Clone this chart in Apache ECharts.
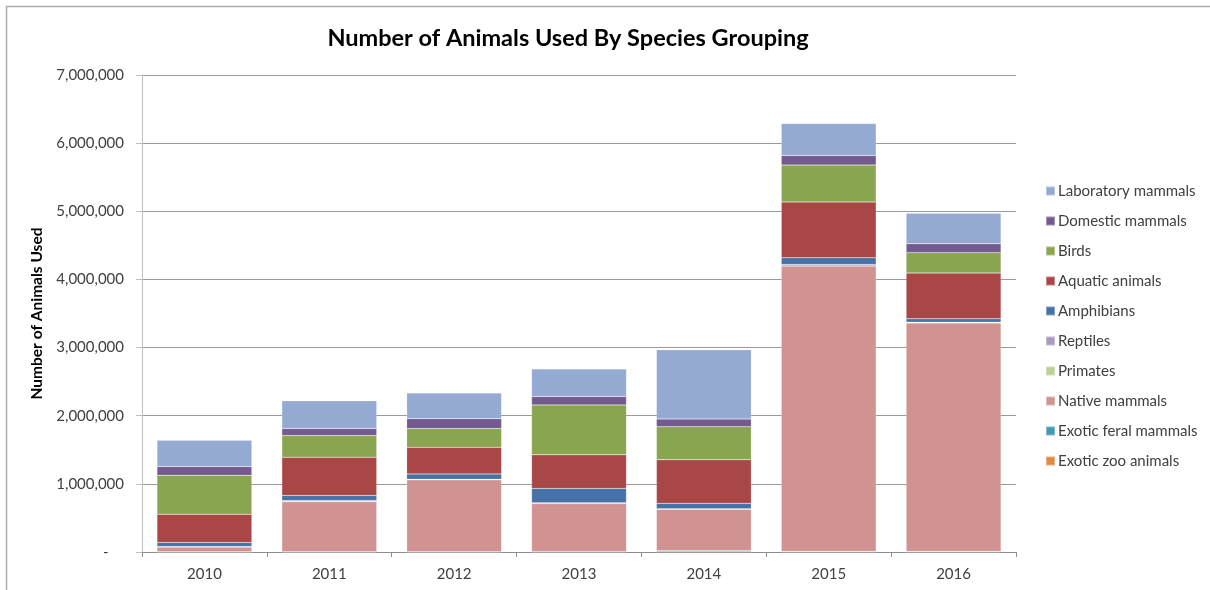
<!DOCTYPE html>
<html>
<head>
<meta charset="utf-8">
<script src="https://cdn.jsdelivr.net/npm/echarts@6/dist/echarts.min.js"></script>
<style>
  html, body { margin: 0; padding: 0; background: #ffffff; }
  #chart { width: 1210px; height: 590px; }
</style>
</head>
<body>
<div id="chart"></div>
<script>
// Number of animals used per year, by species grouping (stacked bottom → top)
const years = ['2010', '2011', '2012', '2013', '2014', '2015', '2016'];

const exoticZooAnimals    = [1000, 1000, 1000, 1000, 3000, 2000, 2000];
const exoticFeralMammals  = [3000, 3000, 3000, 4000, 15000, 5000, 5000];
const nativeMammals       = [70000, 735000, 1056000, 705000, 610000, 4190000, 3355000];
const primates            = [1000, 1000, 1000, 1000, 1000, 1000, 1000];
const reptiles            = [5000, 15000, 5000, 12000, 5000, 20000, 10000];
const amphibians          = [60000, 75000, 80000, 210000, 80000, 100000, 50000];
const aquaticAnimals      = [415000, 562000, 390000, 493000, 640000, 820000, 670000];
const birds               = [571000, 318000, 275000, 733000, 484000, 540000, 300000];
const domesticMammals     = [128000, 103000, 146000, 122000, 113000, 140000, 130000];
const laboratoryMammals   = [386000, 406000, 377000, 406000, 1016000, 470000, 450000];

const yTicks = { min: 0, max: 7000000, step: 1000000 };

const groups = [
  { name: 'Exotic zoo animals',   data: exoticZooAnimals,   color: '#E2883F' },
  { name: 'Exotic feral mammals', data: exoticFeralMammals, color: '#4399AF' },
  { name: 'Native mammals',       data: nativeMammals,      color: '#D19392' },
  { name: 'Primates',             data: primates,           color: '#BBD096' },
  { name: 'Reptiles',             data: reptiles,           color: '#A99BC0' },
  { name: 'Amphibians',           data: amphibians,         color: '#4672A8' },
  { name: 'Aquatic animals',      data: aquaticAnimals,     color: '#A84745' },
  { name: 'Birds',                data: birds,              color: '#8AA54F' },
  { name: 'Domestic mammals',     data: domesticMammals,    color: '#735A8F' },
  { name: 'Laboratory mammals',   data: laboratoryMammals,  color: '#95AAD2' }
];

const FONT = 'Lato, "Open Sans", sans-serif';

const chart = echarts.init(document.getElementById('chart'), null, { renderer: 'canvas' });

chart.setOption({
  animation: false,
  backgroundColor: '#ffffff',
  textStyle: { fontFamily: FONT },
  title: {
    text: 'Number of Animals Used By Species Grouping',
    left: 563,
    top: 21,
    textAlign: 'center',
    textStyle: { fontFamily: FONT, fontSize: 23.5, fontWeight: 'bold', color: '#000000' }
  },
  legend: {
    orient: 'vertical',
    left: 1040,
    top: 177,
    itemWidth: 9,
    itemHeight: 9,
    itemGap: 12,
    icon: 'rect',
    data: groups.map(g => g.name).reverse(),
    textStyle: { fontFamily: FONT, fontSize: 15, color: '#404040', lineHeight: 18, padding: [0, 0, 0, -2] }
  },
  grid: { left: 142, right: 194, top: 75, bottom: 38, containLabel: false },
  xAxis: {
    type: 'category',
    data: years,
    axisLine: { lineStyle: { color: '#8C8C8C', width: 1 } },
    axisTick: { show: true, length: 5, lineStyle: { color: '#8C8C8C' } },
    axisLabel: { fontFamily: FONT, fontSize: 15, color: '#404040', margin: 15 }
  },
  yAxis: {
    type: 'value',
    min: yTicks.min,
    max: yTicks.max,
    interval: yTicks.step,
    name: 'Number of Animals Used',
    nameLocation: 'middle',
    nameGap: 96,
    nameTextStyle: { fontFamily: FONT, fontSize: 15.5, fontWeight: 'bold', color: '#000000' },
    axisLine: { show: true, lineStyle: { color: '#BFBFBF', width: 1 } },
    axisTick: { show: true, length: 6, lineStyle: { color: '#BFBFBF' } },
    splitLine: { lineStyle: { color: '#9A9A9A', width: 1 } },
    axisLabel: {
      fontFamily: FONT,
      fontSize: 15,
      color: '#404040',
      margin: 18,
      formatter: v => v === 0 ? '-    ' : v.toLocaleString('en-US')
    }
  },
  graphic: [{
    type: 'rect',
    silent: true,
    shape: { x: 6.5, y: 6.5, width: 1300, height: 700 },
    style: { fill: 'none', stroke: '#ADADAD', lineWidth: 1.5 }
  }],
  series: groups.map(g => ({
    name: g.name,
    type: 'bar',
    stack: 'total',
    barCategoryGap: '24%',
    data: g.data,
    itemStyle: { color: g.color, borderColor: 'rgba(255,255,255,0.35)', borderWidth: 0.5 }
  }))
});
</script>
</body>
</html>
